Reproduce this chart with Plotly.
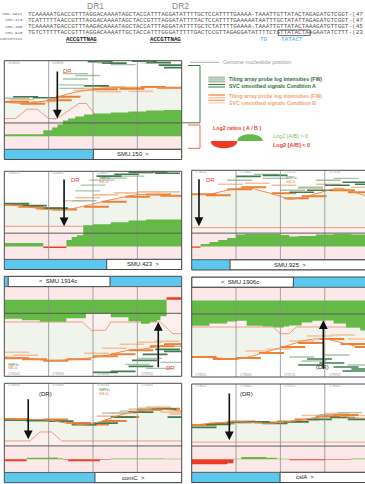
import plotly.graph_objects as go

FW, FH = 365, 484


def px(x):
    return x / FW


def py(y):
    return 1 - y / FH


# ============================ DATA ============================
dr_labels = ["DR1", "DR2"]
seq_names = ["SMU.1914", "SMU.423", "SMU.150", "SMU.925"]
seq_texts = [
    "TCAAAAATGACCGTTTAGGACAAAATAGCTACCATTTAGGATATTTTGCTCCATTTTGAAAA-TAAATTGTTATACTAGAGATGTCGGT-(47",
    "TCATTTTTAACCGTTTAGGACAAAATAGCTACCGTTTAGGATATTTTACTCCATTTTGAAAAATAATTTGCTATATTAGAGATGTCGGT-(47",
    "TCAAAAATGACCGTTTAAGACAAAATAGCTACCATTTAGGATATTTTGCTCTATTTTGAAAA-TAAATTGTTATACTAAAGATGTTGGT-(45",
    "TGTCTTTTTACCGTTTAGGACAAAATTGCTACCATTTGGGATTTTTGACTCCGTTAGAGGATATTTTCTGTTATACTAAGAATATCTTT-(23",
]
mutated_row, mutated_index = 3, 76
consensus_label = "Consensus"
consensus_motifs = ["ACCGTTNAG", "ACCGTTNAG"]
promoter_parts = ["TG", "TATACT"]

legend_position_label = "Genome nucleotide position"
legend_a = ["Tiling array probe log intensities (FW)", "SVC smoothed signals Condition A"]
legend_b = ["Tiling array probe log intensities (FW)", "SVC smoothed signals Condition B"]
legend_ratio_title = "Log2 ratios ( A / B )"
legend_ratio_pos = "Log2 [A/B] > 0"
legend_ratio_neg = "Log2 [A/B] < 0"

# ---- panel SMU.150 ----
smu150_pos = [0, 10, 25, 35, 50, 65, 80, 100]
smu150_signal = [58, 57, 60, 66, 71, 73, 73, 72.5]
smu150_svc_pos = [0, 6.2, 12.8, 18.5, 25.1, 29.8, 42, 46.3, 51.3, 100]
smu150_svc = [41.4, 41.4, 50.9, 50.9, 41.4, 41.4, 56.7, 56.7, 45, 45]
smu150_ratio_pos = [0, 5, 10, 15, 20, 22, 24, 27, 30, 33, 36, 40, 45, 50, 60, 70, 80, 90, 100]
smu150_ratio = [2, 2, 2, 2, 2, 6, 6, 9, 12, 16, 18, 20, 22, 23, 24, 25, 26, 26.5, 26.5]
smu150_a_dark = [(47, 99), (55, 97.5), (72, 99.5), (80, 98), (87, 95.5), (16, 62.5), (45, 74.5), (5, 63.5), (90, 93)]
smu150_a_light = [(33, 87), (33, 81.5), (31, 75.5), (31, 72), (0, 62), (40, 85), (60, 96)]
smu150_b_dark = [(0, 58.5), (9, 56.5), (24, 60), (29, 63.5), (65, 71.5), (77, 73.5), (86, 72.5), (50, 71)]
smu150_b_light = [(39, 70), (44, 72), (54, 73.5), (52, 68.5), (70, 69), (3, 60.5), (15, 58.5)]

# ---- panel SMU.423 ----
smu423_pos = [0, 8, 25, 35, 45, 60, 75, 85, 100]
smu423_signal = [66, 65, 61, 61, 64.6, 71, 76.2, 76.2, 74.5]
smu423_svc_pos = [0, 100]
smu423_svc = [44, 44]
smu423_ratio_pos = [0, 5, 10, 15, 20, 22, 26, 30, 35, 38, 41, 44.5, 50, 60, 70, 80, 90, 100]
smu423_ratio = [3.5, 3.5, 3.5, 3.5, 3.5, -1.5, -1.5, -1.5, 6.5, 9.5, 11.5, 21.5, 22.5, 24.5, 26.5, 27.5, 27.5, 27.5]
smu423_a_dark = [(0, 67), (10, 65), (22, 62.5), (52, 95), (62, 97), (70, 99), (78, 99.5), (85, 98)]
smu423_a_light = [(43, 86), (40, 80), (38, 70), (48, 91), (55, 93), (65, 95)]
smu423_b_dark = [(0, 66), (8, 64), (18, 62), (27, 61), (45, 64), (55, 69), (68, 74), (80, 76.5), (88, 75)]
smu423_b_light = [(33, 70), (40, 73), (50, 76), (62, 78), (75, 79), (85, 79)]

# ---- panel SMU.925 ----
smu925_pos = [0, 10, 20, 31, 40, 50, 55, 65, 75, 84, 95, 100]
smu925_signal = [75.9, 76, 80, 82.5, 79, 74, 71, 74, 79, 82, 76, 74]
smu925_svc_pos = [0, 100]
smu925_svc = [42.5, 42.5]
smu925_ratio_pos = [0, 3, 5, 10, 15, 20, 25, 30, 40, 50, 55, 60, 70, 80, 90, 100]
smu925_ratio = [-1.2, -1.2, 2.5, 4.5, 6.5, 8.5, 12, 12.5, 12.5, 11.5, 10, 10.5, 12, 12.5, 12, 11.5]
smu925_a_dark = [(25, 94), (55, 78), (65, 80), (75, 85), (85, 88), (92, 86), (40, 95)]
smu925_a_light = [(20, 90), (35, 96), (40, 92), (50, 80), (60, 83), (70, 90), (80, 92)]
smu925_b_dark = [(0, 76), (8, 75), (20, 81), (28, 83), (45, 77), (52, 72), (62, 74), (78, 80), (88, 78)]
smu925_b_light = [(15, 86), (30, 87), (45, 85), (60, 82), (70, 86), (90, 83)]

# ---- panel SMU.1914c (reverse strand) ----
smu1914c_pos = [0, 10, 25, 40, 55, 70, 80, 90, 100]
smu1914c_signal = [80.7, 81.5, 84, 83, 80, 74, 72.4, 69, 67.4]
smu1914c_svc_pos = [0, 44, 49, 57, 60, 88, 95, 100]
smu1914c_svc = [45.7, 45.7, 54, 54, 45.7, 45.7, 57.4, 57.4]
smu1914c_ratio_pos = [0, 10, 20, 26, 35, 46, 52, 60, 70, 77, 82, 86, 88, 91.5, 100]
smu1914c_ratio = [19, 20.5, 22, 22, 18.5, 14, 14, 17.5, 21.5, 24, 22, 20.5, 16.5, -2.5, -2.5]
smu1914c_a_dark = [(70, 90), (72, 84), (78, 78), (85, 73), (90, 75), (50, 96), (60, 95)]
smu1914c_a_light = [(68, 88), (75, 82), (80, 92), (88, 86), (92, 70)]
smu1914c_b_dark = [(0, 82), (10, 83), (22, 84.5), (35, 83), (50, 80), (60, 78), (70, 74), (82, 70), (90, 68)]
smu1914c_b_light = [(0, 76), (5, 79), (55, 72), (65, 68), (75, 66), (85, 65), (45, 77)]

# ---- panel SMU.1906c (reverse strand) ----
smu1906c_pos = [0, 15, 26, 40, 55, 65, 75, 85, 95, 100]
smu1906c_signal = [80, 81, 82, 76, 68, 63, 62, 66, 70, 71]
smu1906c_svc_pos = [0, 46, 50, 55, 59, 100]
smu1906c_svc = [50, 50, 56.7, 56.7, 50, 50]
smu1906c_ratio_pos = [0, 10, 20, 25.6, 31, 40, 46, 52, 55, 62, 68, 74, 80, 87, 95, 100]
smu1906c_ratio = [25.3, 23, 21, 20.3, 25.3, 26, 27, 26, 25, 22, 20.3, 20, 23, 27, 30, 31]
smu1906c_a_dark = [(65, 82), (72, 86), (80, 90), (85, 94), (90, 92), (60, 88)]
smu1906c_a_light = [(55, 80), (62, 84), (75, 78), (88, 88)]
smu1906c_b_dark = [(0, 80), (12, 82), (25, 81), (38, 76), (50, 70), (60, 66), (72, 62), (84, 67), (92, 70)]
smu1906c_b_light = [(30, 74), (42, 72), (55, 64), (65, 59), (78, 58), (88, 62)]

# ---- panel comC ----
comC_pos = [0, 10, 25, 35, 46, 55, 65, 75, 82, 92, 100]
comC_signal = [64, 63.5, 63, 60, 58.7, 62, 68, 72, 74, 73.5, 72]
comC_svc_pos = [0, 14.5, 20.1, 26.7, 32.4, 100]
comC_svc = [42, 42, 51, 51, 42, 42]
comC_ratio_pos = [0, 5, 10, 12.6, 15, 20, 25, 30, 33, 36, 40, 45, 50, 54, 60, 70, 80, 90, 100]
comC_ratio = [-1.8, -1.8, -1.8, 1.5, 1.5, 1.5, 1.8, 1.2, -0.5, -2, -2, -2, -2, -0.5, 0.8, 0.8, 0.8, 0.6, 0.8]
comC_a_dark = [(0, 63), (12, 62.5), (25, 62), (38, 58.5), (50, 60), (60, 66), (70, 71), (83, 74), (92, 66)]
comC_a_light = [(55, 70), (65, 72), (75, 75)]
comC_b_dark = [(0, 64), (10, 63), (22, 63.5), (35, 60), (45, 58.5), (55, 62), (62, 66), (75, 73.5), (85, 74.5)]
comC_b_light = [(52, 67), (60, 70), (70, 74), (80, 76), (88, 71), (93, 69)]

# ---- panel cslA ----
cslA_pos = [0, 10, 23.5, 35, 42, 50, 61, 70, 80, 90, 100]
cslA_signal = [58, 60, 61.6, 61, 60, 61, 63.3, 66, 68.4, 66, 65]
cslA_svc_pos = [0, 100]
cslA_svc = [41, 41]
cslA_ratio_pos = [0, 10, 20, 23.5, 28, 35, 42, 48, 55, 65, 75, 85, 90, 100]
cslA_ratio = [-5, -5, -4, 0.5, 2.5, 2.5, 1.5, 0.5, -0.8, -0.8, -0.5, -0.5, 0.8, 1]
cslA_a_dark = [(0, 56), (8, 59), (20, 61), (30, 61.5), (40, 60), (52, 61.5), (65, 64), (78, 66), (88, 64)]
cslA_a_light = [(72, 69), (82, 71)]
cslA_b_dark = [(0, 58.5), (10, 60), (22, 62), (35, 61), (48, 62), (58, 64), (70, 67), (80, 68.5)]
cslA_b_light = [(62, 68), (75, 70), (85, 68)]

gene_labels = ["SMU.150  >", "SMU.423  >", "SMU.925  >", "<  SMU.1914c", "<  SMU.1906c", "comC  >", "cslA  >"]
gene_spans = [(50.2, 100), (57.7, 100), (21.6, 100), (2.2, 59.6), (0, 57.3), (51.1, 100), (49.8, 100)]
dr_marks = ["DR", "DR", "DR", "DR", "(DR)", "(DR)", "(DR)"]
dr_sites = [29.9, 33.7, 4.1, 86.8, 74.2, 13.5, 21.2]
coord_labels = [
    ["153640", "153690", "153740", "153790"],
    ["158311", "158361", "158411", "158461"],
    ["175611", "175661", "175711", "175761"],
    ["179040", "179090", "179140", "179190"],
    ["179611", "179661", "179711", "179761"],
    ["179433", "179483", "179533", "179583"],
    ["179411", "179461", "179511", "179561"],
]

# ============================ LAYOUT (positions / styles) ============================
GENE_TOP, BASE, SEP = 10.3, 23.5, 37.0
PROBE_LEN = 14

panels = [
    dict(box=(4.3, 60.7, 181.7, 159.5), flip=False, pos=smu150_pos, sig=smu150_signal, svx=smu150_svc_pos, sv=smu150_svc,
         rx=smu150_ratio_pos, r=smu150_ratio, ad=smu150_a_dark, al=smu150_a_light, bd=smu150_b_dark, bl=smu150_b_light,
         arrow=(90.5, 41.4), drpos=(32, 89.5), drcol="#e8432c", glx=72.7),
    dict(box=(4.3, 171.3, 181.7, 269.5), flip=False, pos=smu423_pos, sig=smu423_signal, svx=smu423_svc_pos, sv=smu423_svc,
         rx=smu423_ratio_pos, r=smu423_ratio, ad=smu423_a_dark, al=smu423_a_light, bd=smu423_b_dark, bl=smu423_b_light,
         arrow=(93.2, 44), drpos=(36.5, 91), drcol="#e8432c", glx=78.2),
    dict(box=(191.7, 170.3, 369.1, 270), flip=False, pos=smu925_pos, sig=smu925_signal, svx=smu925_svc_pos, sv=smu925_svc,
         rx=smu925_ratio_pos, r=smu925_ratio, ad=smu925_a_dark, al=smu925_a_light, bd=smu925_b_dark, bl=smu925_b_light,
         arrow=(92.5, 44), drpos=(7, 90), drcol="#e8432c", glx=55.3),
    dict(box=(4.3, 276.3, 181.7, 376.3), flip=True, pos=smu1914c_pos, sig=smu1914c_signal, svx=smu1914c_svc_pos, sv=smu1914c_svc,
         rx=smu1914c_ratio_pos, r=smu1914c_ratio, ad=smu1914c_a_dark, al=smu1914c_a_light, bd=smu1914c_b_dark, bl=smu1914c_b_light,
         arrow=(92.4, 45.7), drpos=(90, 91.5), drcol="#e8432c", glx=30.4),
    dict(box=(191.7, 277, 369.1, 377), flip=True, pos=smu1906c_pos, sig=smu1906c_signal, svx=smu1906c_svc_pos, sv=smu1906c_svc,
         rx=smu1906c_ratio_pos, r=smu1906c_ratio, ad=smu1906c_a_dark, al=smu1906c_a_light, bd=smu1906c_b_dark, bl=smu1906c_b_light,
         arrow=(93.3, 43.3), drpos=(69, 90), drcol="#222222", glx=27.2),
    dict(box=(4.3, 383.3, 181.7, 482.7), flip=False, pos=comC_pos, sig=comC_signal, svx=comC_svc_pos, sv=comC_svc,
         rx=comC_ratio_pos, r=comC_ratio, ad=comC_a_dark, al=comC_a_light, bd=comC_b_dark, bl=comC_b_light,
         arrow=(85.5, 43.7), drpos=(18.5, 89), drcol="#222222", glx=72.6),
    dict(box=(191.7, 384, 369.1, 482.5), flip=False, pos=cslA_pos, sig=cslA_signal, svx=cslA_svc_pos, sv=cslA_svc,
         rx=cslA_ratio_pos, r=cslA_ratio, ad=cslA_a_dark, al=cslA_a_light, bd=cslA_b_dark, bl=cslA_b_light,
         arrow=(92, 42.9), drpos=(26, 90), drcol="#222222", glx=63.8),
]

fig = go.Figure()
shapes, annotations, axes = [], [], {}
SANS = "Liberation Sans"
MONO = "Liberation Mono"


def ptext(x, y, text, size, color, family=SANS, xanchor="center", yanchor="middle", pad=1):
    annotations.append(dict(xref="paper", yref="paper", x=px(x), y=py(y), text=text, showarrow=False,
                            xanchor=xanchor, yanchor=yanchor, borderpad=pad,
                            font=dict(family=family, size=size, color=color)))


for i, P in enumerate(panels):
    l, t, r, b = P["box"]
    k = "" if i == 0 else str(i + 1)
    xa, ya = "x" + k, "y" + k
    rr = min(r, FW)
    xmax = 100 * (rr - l) / (r - l)
    axes["xaxis" + k] = dict(domain=[px(l), px(rr)], range=[0, xmax], visible=False, fixedrange=True, anchor=ya)
    axes["yaxis" + k] = dict(domain=[py(b), py(t)], range=[100, 0] if P["flip"] else [0, 100],
                             visible=False, fixedrange=True, anchor=xa)

    def add(**kw):
        fig.add_trace(go.Scatter(xaxis=xa, yaxis=ya, showlegend=False, hoverinfo="skip", **kw))

    # light background under smoothed intensity
    add(x=[0, 100], y=[SEP, SEP], mode="lines", line=dict(width=0))
    add(x=P["pos"], y=P["sig"], mode="lines", line=dict(width=0), fill="tonexty", fillcolor="#f1f4ec")
    # smoothed ratio outline
    add(x=[0, 100], y=[SEP, SEP], mode="lines", line=dict(width=0))
    add(x=P["svx"], y=P["sv"], mode="lines", line=dict(color="#f29a86", width=1), fill="tonexty", fillcolor="#fcf0ee")
    # probes
    for key, color, w in [("bl", "#f7c09c", 1.6), ("al", "#a7c2ac", 1.3), ("bd", "#ee7f33", 2.0), ("ad", "#3f7b4f", 1.7)]:
        xs, ys = [], []
        for x0, y0 in P[key]:
            xs += [x0, x0 + PROBE_LEN, None]
            ys += [y0, y0, None]
        add(x=xs, y=ys, mode="lines", line=dict(color=color, width=w))
    add(x=P["pos"], y=P["sig"], mode="lines", line=dict(color="#ef8a48", width=1, shape="spline"))
    # log2 ratios
    rx = P["rx"]
    add(x=rx, y=[BASE] * len(rx), mode="lines", line=dict(width=0))
    add(x=rx, y=[BASE + max(v, 0) for v in P["r"]], mode="lines", line=dict(width=0, shape="hv"),
        fill="tonexty", fillcolor="#64b947")
    add(x=rx, y=[BASE] * len(rx), mode="lines", line=dict(width=0))
    add(x=rx, y=[BASE + min(v, 0) for v in P["r"]], mode="lines", line=dict(width=0, shape="hv"),
        fill="tonexty", fillcolor="#ee3b25")

    # ratio band
    shapes.append(dict(type="rect", xref=xa, yref=ya, x0=0, x1=100, y0=GENE_TOP, y1=SEP,
                       fillcolor="#fde8e9", line_width=0, layer="below"))
    for gx in (25, 50, 75):
        shapes.append(dict(type="line", xref=xa, yref=ya, x0=gx, x1=gx, y0=GENE_TOP, y1=100,
                           line=dict(color="#8f8f8f", width=0.8), layer="above"))
    shapes.append(dict(type="line", xref=xa, yref=ya, x0=0, x1=100, y0=SEP, y1=SEP,
                       line=dict(color="#5a5a5a", width=1), layer="above"))
    # gene bar
    g0, g1 = gene_spans[i]
    shapes.append(dict(type="rect", xref=xa, yref=ya, x0=0, x1=100, y0=0, y1=GENE_TOP,
                       fillcolor="#5cc8ef", line_width=0, layer="above"))
    shapes.append(dict(type="rect", xref=xa, yref=ya, x0=g0, x1=g1, y0=0, y1=GENE_TOP,
                       fillcolor="white", line=dict(color="#444", width=1), layer="above"))
    shapes.append(dict(type="line", xref=xa, yref=ya, x0=0, x1=100, y0=GENE_TOP, y1=GENE_TOP,
                       line=dict(color="#5a5a5a", width=1), layer="above"))
    annotations.append(dict(xref=xa, yref=ya, x=P["glx"], y=GENE_TOP / 2, text=gene_labels[i], showarrow=False,
                            font=dict(family=SANS, size=6, color="#222"), xanchor="center", yanchor="middle"))
    # panel border
    if r <= FW:
        path = f"M{px(l)},{py(t)} L{px(r)},{py(t)} L{px(r)},{py(b)} L{px(l)},{py(b)} Z"
    else:
        path = f"M{px(FW + 2)},{py(t)} L{px(l)},{py(t)} L{px(l)},{py(b)} L{px(FW + 2)},{py(b)}"
    shapes.append(dict(type="path", xref="paper", yref="paper", path=path,
                       line=dict(color="#4a4a4a", width=1), layer="above"))
    # DR arrow
    y_from, y_to = P["arrow"]
    annotations.append(dict(xref=xa, yref=ya, axref=xa, ayref=ya, x=dr_sites[i], y=y_to, ax=dr_sites[i], ay=y_from,
                            text="", showarrow=True, arrowhead=2, arrowsize=1.1, arrowwidth=1.6, arrowcolor="#111"))
    dx, dy = P["drpos"]
    annotations.append(dict(xref=xa, yref=ya, x=dx, y=dy, text=dr_marks[i], showarrow=False, xanchor="left",
                            yanchor="middle", font=dict(family=SANS, size=6, color=P["drcol"])))
    # coordinate ticks
    for j, lab in enumerate(coord_labels[i]):
        annotations.append(dict(xref=xa, yref=ya, x=1 + 25 * j, y=98 if not P["flip"] else 97.5, text=lab,
                                showarrow=False, xanchor="left", yanchor="middle",
                                font=dict(family=SANS, size=3.5, color="#9a9a9a")))

# tiny strain tags in a few panels
for k_, xx, yy in [("2", 52, 93), ("3", 52, 92), ("6", 52, 93)]:
    annotations.append(dict(xref="x" + k_, yref="y" + k_, x=xx, y=yy, text="SMF1c", showarrow=False, xanchor="left",
                            yanchor="middle", font=dict(family=SANS, size=3.5, color="#3f7b4f")))
    annotations.append(dict(xref="x" + k_, yref="y" + k_, x=xx, y=yy - 3.5, text="SM-2c", showarrow=False,
                            xanchor="left", yanchor="middle", font=dict(family=SANS, size=3.5, color="#ee7f33")))
for dy_, col, lab in [(88.5, "#3f7b4f", "SMF1c"), (92, "#ee7f33", "SM-2c")]:
    annotations.append(dict(xref="x4", yref="y4", x=1, y=dy_, text=lab, showarrow=False, xanchor="left",
                            yanchor="middle", font=dict(family=SANS, size=3.5, color=col)))

# ============================ TOP SEQUENCE BLOCK ============================
ptext(96, 6, dr_labels[0], 8.5, "#8a8a8a")
ptext(180, 6, dr_labels[1], 8.5, "#8a8a8a")
row_y = [14.2, 20.4, 26.6, 32.8]
for ri, (name, seq, yy) in enumerate(zip(seq_names, seq_texts, row_y)):
    ptext(23.5, yy, name, 4.2, "#666", family=MONO, xanchor="right", pad=0)
    if ri == mutated_row:
        seq = (seq[:mutated_index] + "<span style='color:#e02020'>" + seq[mutated_index] + "</span>"
               + seq[mutated_index + 1:])
    ptext(27.3, yy, seq, 6, "#555", family=MONO, xanchor="left", pad=0)
# boxed motif in SMU.925
shapes.append(dict(type="rect", xref="paper", yref="paper", x0=px(278.3), x1=px(310.3),
                   y0=py(row_y[3] + 2.8), y1=py(row_y[3] - 2.8), line=dict(color="#444", width=0.8)))
cons_y = 39.3
ptext(23.5, cons_y, consensus_label, 4.2, "#666", family=MONO, xanchor="right", pad=0)
for m, cx in zip(consensus_motifs, [81, 165]):
    ptext(cx, cons_y, "<b><u>" + m + "</u></b>", 5.7, "#222", family=MONO, pad=0)
for m, cx in zip(promoter_parts, [263.5, 292]):
    ptext(cx, cons_y, m, 6, "#4aa6e0", family=MONO, pad=0)


# ============================ LEGEND (right of top panel) ============================
def ppath(pts):
    return "M" + " L".join(f"{px(a)},{py(b)}" for a, b in pts)


shapes.append(dict(type="line", xref="paper", yref="paper", x0=px(190), x1=px(219), y0=py(62.3), y1=py(62.3),
                   line=dict(color="#9a9a9a", width=0.8)))
ptext(221, 62.3, legend_position_label, 5.5, "#9a9a9a", xanchor="left")
shapes.append(dict(type="path", xref="paper", yref="paper",
                   path=ppath([(188, 65.5), (200, 65.5), (200, 122.8), (181, 122.8)]),
                   line=dict(color="#3f7b4f", width=1)))
shapes.append(dict(type="path", xref="paper", yref="paper",
                   path=ppath([(188, 125), (200, 125), (200, 148.3), (188, 148.3)]),
                   line=dict(color="#ee6a50", width=1)))
for yy, col, w in [(77.5, "#a9c0ad", 2), (79.5, "#b7cbba", 2), (81.5, "#a9c0ad", 2), (84.5, "#3f7b4f", 1.2), (87, "#5d8e69", 1.2)]:
    shapes.append(dict(type="line", xref="paper", yref="paper", x0=px(208.3), x1=px(225), y0=py(yy), y1=py(yy),
                       line=dict(color=col, width=w)))
for yy, col in [(95, "#f2995c"), (97.7, "#f8c9a8"), (100.3, "#f4ae80"), (103, "#f9d7c2")]:
    shapes.append(dict(type="line", xref="paper", yref="paper", x0=px(208.3), x1=px(225), y0=py(yy), y1=py(yy),
                       line=dict(color=col, width=1.5)))
for txt, yy, col in [(legend_a[0], 79.3, "#2f6e3e"), (legend_a[1], 86, "#2f6e3e"),
                     (legend_b[0], 96, "#f4a26c"), (legend_b[1], 102.7, "#f4a26c")]:
    ptext(228, yy, "<b>" + txt + "</b>", 5.2, col, xanchor="left", pad=0)
ptext(210.5, 127.5, "<b>" + legend_ratio_title + "</b>", 5.3, "#e8432c", xanchor="left")
shapes.append(dict(type="path", xref="paper", yref="paper",
                   path=f"M{px(210.7)},{py(141)} C{px(210.7)},{py(150.7)} {px(237.3)},{py(150.7)} {px(237.3)},{py(141)} Z",
                   fillcolor="#ee3b25", line_width=0))
shapes.append(dict(type="path", xref="paper", yref="paper",
                   path=f"M{px(237.3)},{py(141)} C{px(237.3)},{py(132)} {px(262.7)},{py(132)} {px(262.7)},{py(141)} Z",
                   fillcolor="#64b947", line_width=0))
ptext(271.5, 135.8, legend_ratio_pos, 5.5, "#7cbf5c", xanchor="left", pad=0)
ptext(271.5, 145, "<b>" + legend_ratio_neg + "</b>", 5.5, "#e8432c", xanchor="left", pad=0)

fig.update_layout(
    width=FW, height=FH, autosize=False,
    margin=dict(l=0, r=0, t=0, b=0),
    paper_bgcolor="white", plot_bgcolor="rgba(0,0,0,0)",
    showlegend=False,
    shapes=shapes, annotations=annotations,
    **axes,
)
fig.write_html("out.html")
